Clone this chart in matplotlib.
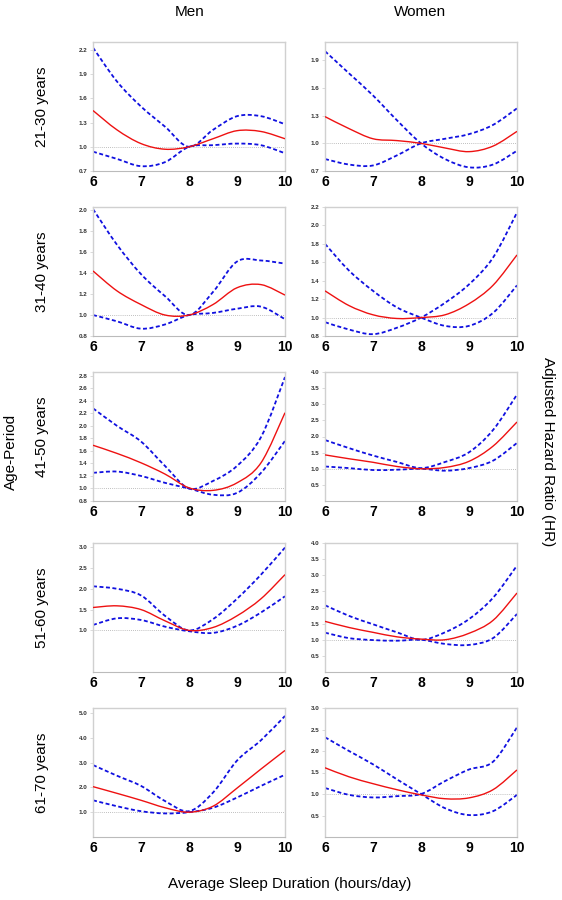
import numpy as np
import matplotlib
matplotlib.use("Agg")
import matplotlib.pyplot as plt
from matplotlib.path import Path
from matplotlib.patches import PathPatch

# sleep duration grid (hours/day)
hours = [6, 6.5, 7, 7.5, 8, 8.5, 9, 9.5, 10]

age_groups = ["21-30 years", "31-40 years", "41-50 years", "51-60 years", "61-70 years"]
sexes = ["Men", "Women"]

# hazard ratio curves: (estimate, band A, band B) per panel
men_hr = [
    [1.45, 1.21, 1.04, 0.97, 1.0, 1.10, 1.20, 1.19, 1.10],
    [1.42, 1.23, 1.10, 1.00, 1.0, 1.10, 1.26, 1.29, 1.19],
    [1.69, 1.56, 1.41, 1.23, 1.01, 0.97, 1.09, 1.41, 2.21],
    [1.55, 1.59, 1.50, 1.23, 1.0, 1.07, 1.35, 1.76, 2.34],
    [2.03, 1.76, 1.48, 1.18, 1.0, 1.24, 1.97, 2.74, 3.49],
]
men_ci_a = [
    [2.23, 1.81, 1.50, 1.25, 1.0, 1.21, 1.38, 1.38, 1.28],
    [2.01, 1.67, 1.39, 1.18, 1.0, 1.22, 1.51, 1.52, 1.49],
    [2.28, 2.00, 1.75, 1.36, 1.0, 1.12, 1.36, 1.82, 2.78],
    [2.06, 2.00, 1.84, 1.35, 1.0, 1.27, 1.76, 2.34, 2.99],
    [2.90, 2.47, 2.06, 1.45, 1.04, 1.79, 3.08, 3.90, 4.88],
]
men_ci_b = [
    [0.94, 0.85, 0.76, 0.81, 1.0, 1.02, 1.04, 1.02, 0.92],
    [1.00, 0.94, 0.87, 0.91, 1.0, 1.02, 1.06, 1.08, 0.96],
    [1.25, 1.27, 1.20, 1.09, 1.0, 0.90, 0.93, 1.25, 1.76],
    [1.13, 1.29, 1.25, 1.09, 0.98, 0.94, 1.11, 1.43, 1.82],
    [1.48, 1.24, 1.04, 0.95, 1.0, 1.18, 1.59, 2.06, 2.51],
]
women_hr = [
    [1.29, 1.16, 1.05, 1.03, 1.0, 0.95, 0.91, 0.97, 1.13],
    [1.29, 1.13, 1.03, 0.99, 1.0, 1.03, 1.15, 1.35, 1.68],
    [1.43, 1.31, 1.20, 1.07, 1.0, 1.04, 1.23, 1.70, 2.45],
    [1.57, 1.38, 1.23, 1.09, 1.02, 1.00, 1.20, 1.60, 2.45],
    [1.61, 1.40, 1.24, 1.10, 0.98, 0.89, 0.91, 1.10, 1.56],
]
women_ci_a = [
    [2.00, 1.76, 1.52, 1.25, 1.0, 0.83, 0.74, 0.77, 0.92],
    [1.80, 1.51, 1.29, 1.11, 1.0, 0.91, 0.91, 1.05, 1.35],
    [1.89, 1.64, 1.41, 1.21, 1.02, 1.21, 1.51, 2.20, 3.30],
    [2.07, 1.74, 1.48, 1.23, 1.0, 1.23, 1.64, 2.30, 3.30],
    [2.32, 2.00, 1.69, 1.34, 1.0, 0.67, 0.51, 0.60, 0.98],
]
women_ci_b = [
    [0.83, 0.77, 0.76, 0.87, 1.0, 1.05, 1.10, 1.20, 1.38],
    [0.95, 0.87, 0.82, 0.89, 1.0, 1.16, 1.36, 1.65, 2.14],
    [1.07, 1.02, 0.96, 0.97, 1.0, 0.94, 1.02, 1.25, 1.80],
    [1.22, 1.05, 0.99, 0.97, 1.0, 0.87, 0.84, 1.05, 1.80],
    [1.14, 0.98, 0.92, 0.95, 1.0, 1.30, 1.57, 1.75, 2.55],
]

men_yticks = [
    [0.7, 1.0, 1.3, 1.6, 1.9, 2.2],
    [0.8, 1.0, 1.2, 1.4, 1.6, 1.8, 2.0],
    [0.8, 1.0, 1.2, 1.4, 1.6, 1.8, 2.0, 2.2, 2.4, 2.6, 2.8],
    [1.0, 1.5, 2.0, 2.5, 3.0],
    [1.0, 2.0, 3.0, 4.0, 5.0],
]
men_ylim = [(0.7, 2.3), (0.8, 2.03), (0.8, 2.86), (0.0, 3.1), (0.0, 5.2)]
women_yticks = [
    [0.7, 1.0, 1.3, 1.6, 1.9],
    [0.8, 1.0, 1.2, 1.4, 1.6, 1.8, 2.0, 2.2],
    [0.5, 1.0, 1.5, 2.0, 2.5, 3.0, 3.5, 4.0],
    [0.5, 1.0, 1.5, 2.0, 2.5, 3.0, 3.5, 4.0],
    [0.5, 1.0, 1.5, 2.0, 2.5, 3.0],
]
women_ylim = [(0.7, 2.1), (0.8, 2.2), (0.0, 4.0), (0.0, 4.0), (0.0, 3.0)]


def smooth_curve(ax, xs, ys, **kw):
    # draw the series as a smooth bezier path through the read points
    pts = np.column_stack([xs, ys])
    verts = [pts[0]]
    codes = [Path.MOVETO]
    n = len(pts)
    for i in range(n - 1):
        p_prev = pts[i - 1] if i > 0 else pts[i]
        p_next2 = pts[i + 2] if i + 2 < n else pts[i + 1]
        c1 = pts[i] + (pts[i + 1] - p_prev) / 6
        c2 = pts[i + 1] - (p_next2 - pts[i]) / 6
        verts += [c1, c2, pts[i + 1]]
        codes += [Path.CURVE4] * 3
    ax.add_patch(PathPatch(Path(verts, codes), fill=False, transform=ax.transData,
                           capstyle='butt', **kw))


W, H = 562, 900
fig = plt.figure(figsize=(W / 100, H / 100), dpi=100)
plt.rcParams['font.family'] = ['Liberation Sans', 'DejaVu Sans']

col_left = [93, 325]
col_width = 192
row_top = [42, 207, 372, 543, 708]
row_height = 129

panels = [
    (men_hr, men_ci_a, men_ci_b, men_yticks, men_ylim),
    (women_hr, women_ci_a, women_ci_b, women_yticks, women_ylim),
]

for c, (hr, ci_a, ci_b, yticks, ylims) in enumerate(panels):
    for r in range(len(age_groups)):
        ax = fig.add_axes([col_left[c] / W, 1 - (row_top[r] + row_height) / H,
                           col_width / W, row_height / H])
        ax.axhline(1.0, color='#aaaaaa', lw=0.6, ls=(0, (1, 1.5)), zorder=1)
        smooth_curve(ax, hours, ci_a[r], edgecolor='#1010e0', lw=1.3,
                     ls=(0, (2.2, 1.4)), zorder=2)
        smooth_curve(ax, hours, ci_b[r], edgecolor='#1010e0', lw=1.3,
                     ls=(0, (2.2, 1.4)), zorder=2)
        smooth_curve(ax, hours, hr[r], edgecolor='#ee1111', lw=1.0, zorder=3)
        ax.set_xlim(6, 10)
        ax.set_ylim(*ylims[r])
        ax.set_xticks([6, 7, 8, 9, 10])
        ax.set_yticks(yticks[r])
        ax.set_yticklabels([f"{v:.1f}" for v in yticks[r]])
        ax.tick_params(axis='x', length=0, pad=3, labelsize=10)
        ax.tick_params(axis='y', length=2, width=0.5, color='#cccccc', pad=2,
                       labelsize=4.5, labelcolor='#333333')
        for lbl in ax.get_xticklabels() + ax.get_yticklabels():
            lbl.set_fontweight('bold')
        for side in ['top', 'right', 'left']:
            ax.spines[side].set_color('#d0d0d0')
            ax.spines[side].set_linewidth(1.0)
        ax.spines['bottom'].set_color('#bbbbbb')
        ax.spines['bottom'].set_linestyle((0, (1, 1)))
        ax.spines['bottom'].set_linewidth(0.8)
        if c == 0:
            fig.text(42 / W, 1 - (row_top[r] + row_height / 2) / H, age_groups[r],
                     rotation=90, ha='center', va='center', fontsize=11)

fig.text(190 / W, 1 - 12 / H, "Men", ha='center', va='center', fontsize=11)
fig.text(420 / W, 1 - 12 / H, "Women", ha='center', va='center', fontsize=11)
fig.text(11 / W, 1 - 452 / H, "Age-Period", rotation=90, ha='center', va='center', fontsize=11)
fig.text(548 / W, 1 - 452 / H, "Adjusted Hazard Ratio (HR)", rotation=-90,
         ha='center', va='center', fontsize=11)
fig.text(290 / W, 1 - 884 / H, "Average Sleep Duration (hours/day)",
         ha='center', va='center', fontsize=11)

fig.savefig("out.png", dpi=100, facecolor='white')
